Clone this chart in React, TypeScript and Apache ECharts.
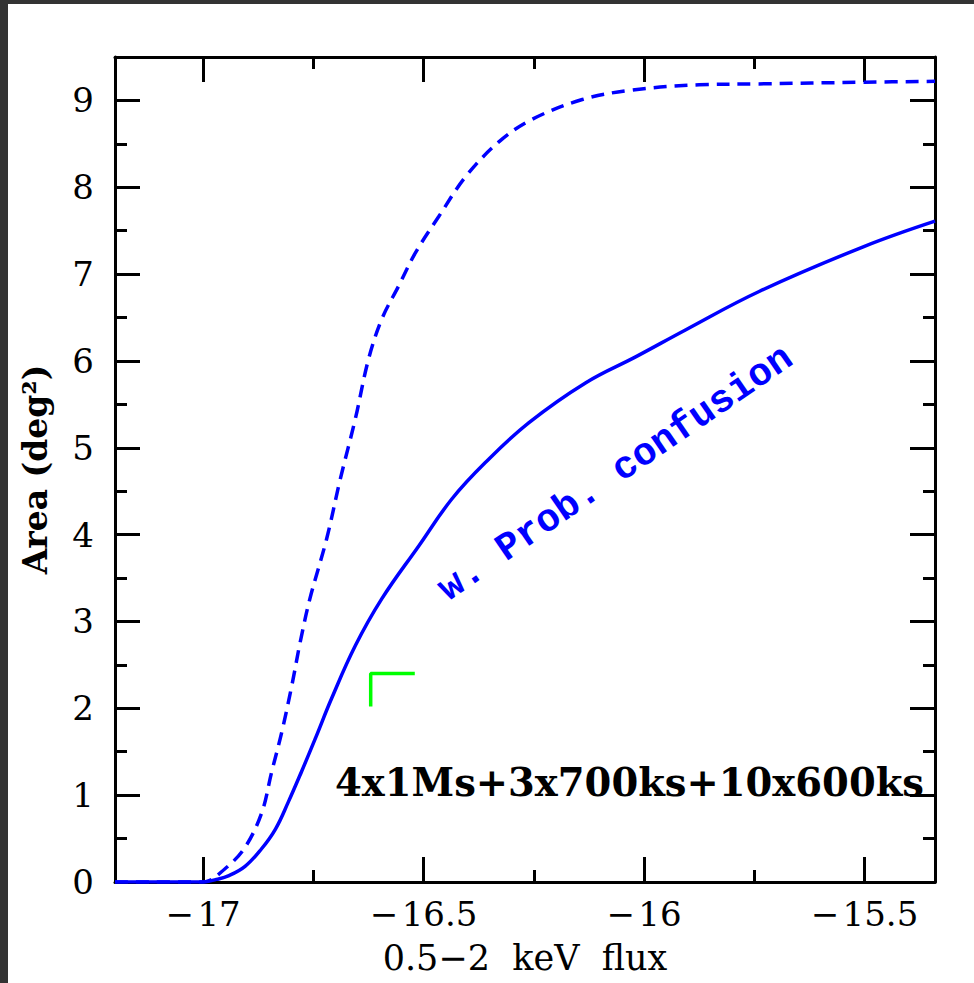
import React, { useEffect, useRef } from "react";
import * as echarts from "echarts";

// Dashed curve (no confusion)
const dashedX = [-17.2, -17.0, -16.951, -16.905, -16.867, -16.845, -16.822, -16.799, -16.78, -16.758, -16.72, -16.689, -16.655, -16.625, -16.595, -16.557, -16.518, -16.466, -16.405, -16.33, -16.255, -16.14, -16.027, -15.875, -15.74, -15.5, -15.34];
const dashedY = [0, 0, 0.15, 0.4, 0.8, 1.26, 1.72, 2.26, 2.76, 3.26, 3.95, 4.64, 5.33, 6.02, 6.48, 6.86, 7.25, 7.66, 8.12, 8.52, 8.78, 9.01, 9.12, 9.18, 9.19, 9.21, 9.22];

// Solid curve (w. Prob. confusion)
const solidX = [-17.2, -17.0, -16.97, -16.943, -16.905, -16.868, -16.836, -16.807, -16.777, -16.745, -16.709, -16.655, -16.595, -16.511, -16.436, -16.36, -16.261, -16.132, -16.018, -15.905, -15.739, -15.5, -15.34];
const solidY = [0, 0, 0.03, 0.07, 0.18, 0.38, 0.61, 0.92, 1.27, 1.66, 2.11, 2.72, 3.26, 3.87, 4.41, 4.83, 5.29, 5.75, 6.05, 6.36, 6.8, 7.32, 7.61];

// Green marker
const markerX = [-16.62, -16.62, -16.52];
const markerY = [2.02, 2.4, 2.4];

const xMajor = [-17, -16.5, -16, -15.5];
const xMinor = [-16.75, -16.25, -15.75];
const yMajor = [0, 1, 2, 3, 4, 5, 6, 7, 8, 9];
const yMinor = [0.5, 1.5, 2.5, 3.5, 4.5, 5.5, 6.5, 7.5, 8.5];

const X_MIN = -17.2;
const X_MAX = -15.34;
const Y_MIN = 0;
const Y_MAX = 9.5;

const annotation = "4x1Ms+3x700ks+10x600ks";
const curveLabel = "w. Prob. confusion";
const xTitle = "0.5\u22122  keV  flux";
const yTitle = "Area (deg\u00b2)";

const zip = (xs: number[], ys: number[]) => xs.map((x, i) => [x, ys[i]]);

const FONT = "DejaVu Serif";

export default function App() {
  const ref = useRef<HTMLDivElement>(null);
  useEffect(() => {
    if (!ref.current) return;
    const chart = echarts.init(ref.current, undefined, { renderer: "svg" });
    const tickLine = { color: "#000", width: 3 };
    const baseX = (pos: "bottom" | "top", vals: number[], len: number, labels: boolean, line: boolean, extra: any = {}) => ({
      type: "value",
      position: pos,
      min: X_MIN,
      max: X_MAX,
      splitLine: { show: false },
      axisLine: { show: line, onZero: false, lineStyle: { color: "#000", width: 3 } },
      axisTick: { show: true, inside: true, length: len, lineStyle: tickLine, customValues: vals },
      axisLabel: labels
        ? {
            show: true,
            customValues: vals,
            margin: 15,
            color: "#000",
            fontFamily: FONT,
            fontSize: 34,
            formatter: (v: number) => (v < 0 ? "\u2212\u200a" + String(Math.abs(v)) : String(v)),
          }
        : { show: false },
      ...extra,
    });
    const baseY = (pos: "left" | "right", vals: number[], len: number, labels: boolean, line: boolean, extra: any = {}) => ({
      type: "value",
      position: pos,
      min: Y_MIN,
      max: Y_MAX,
      splitLine: { show: false },
      axisLine: { show: line, onZero: false, lineStyle: { color: "#000", width: 3 } },
      axisTick: { show: true, inside: true, length: len, lineStyle: tickLine, customValues: vals },
      axisLabel: labels
        ? { show: true, customValues: vals, margin: 21, color: "#000", fontFamily: FONT, fontSize: 34 }
        : { show: false },
      ...extra,
    });
    chart.setOption({
      animation: false,
      backgroundColor: "#fff",
      grid: { left: 107, top: 53, right: 39, bottom: 101, containLabel: false },
      xAxis: [
        baseX("bottom", xMajor, 25, true, true, {
          name: xTitle,
          nameLocation: "middle",
          nameGap: 58,
          nameTextStyle: { color: "#000", fontFamily: FONT, fontSize: 35 },
        }),
        baseX("bottom", xMinor, 12, false, false),
        baseX("top", xMajor, 25, false, true),
        baseX("top", xMinor, 12, false, false),
      ],
      yAxis: [
        baseY("left", yMajor, 25, true, true, {
          name: yTitle,
          nameLocation: "middle",
          nameGap: 63,
          nameTextStyle: { color: "#000", fontFamily: FONT, fontSize: 33, fontWeight: "bold" },
        }),
        baseY("left", yMinor, 12, false, false),
        baseY("right", yMajor, 25, false, true),
        baseY("right", yMinor, 12, false, false),
      ],
      series: [
        {
          type: "line",
          data: zip(dashedX, dashedY),
          showSymbol: false,
          smooth: 0.35,
          lineStyle: { color: "#0000ff", width: 3.5, type: [13, 8] },
          z: 3,
        },
        {
          type: "line",
          data: zip(solidX, solidY),
          showSymbol: false,
          smooth: 0.4,
          lineStyle: { color: "#0000ff", width: 3.5, type: "solid" },
          z: 4,
        },
        {
          type: "line",
          data: zip(markerX, markerY),
          showSymbol: false,
          lineStyle: { color: "#00ff00", width: 3.5 },
          z: 5,
        },
      ],
      graphic: [
        {
          type: "text",
          left: 327,
          top: 759,
          style: {
            text: annotation,
            fill: "#000",
            fontFamily: FONT,
            fontWeight: "bold",
            fontSize: 38.5,
          },
          z: 10,
        },
        {
          type: "text",
          x: 608,
          y: 470,
          rotation: (34.5 * Math.PI) / 180,
          style: {
            text: curveLabel,
            fill: "#0000ff",
            fontFamily: "Liberation Mono",
            fontWeight: "bold",
            fontSize: 39,
            align: "center",
            verticalAlign: "middle",
          },
          z: 10,
        },
      ],
    });
    return () => chart.dispose();
  }, []);
  return (
    <div style={{ position: "absolute", left: 0, top: 0, width: 974, height: 983, background: "#333" }}>
      <div ref={ref} style={{ position: "absolute", left: 8, top: 4, width: 966, height: 979, background: "#fff" }} />
    </div>
  );
}
